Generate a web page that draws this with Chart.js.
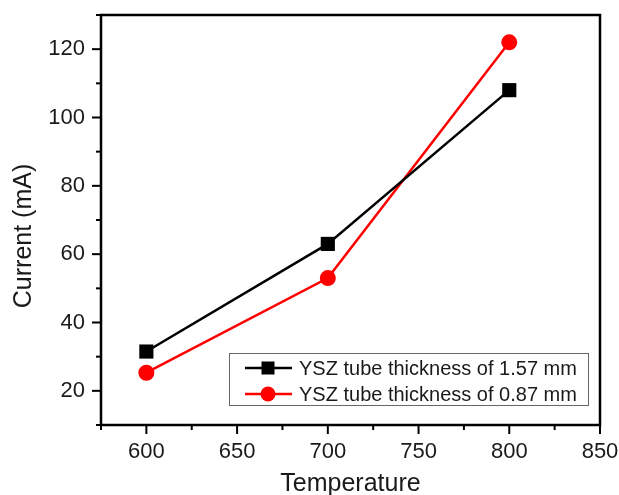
<!DOCTYPE html>
<html>
<head>
<meta charset="utf-8">
<title>Current vs Temperature</title>
<script src="https://cdn.jsdelivr.net/npm/chart.js@4.4.1/dist/chart.umd.min.js"></script>
<style>
  html, body { margin: 0; padding: 0; background: #fff; }
  #wrap { width: 619px; height: 495px; }
</style>
</head>
<body>
<div id="wrap"><canvas id="chart" width="619" height="495"></canvas></div>
<script>
const temperatures = [600, 700, 800];
const thick157 = [31.5, 63, 108];
const thick087 = [25.3, 53, 122];
const seriesLabels = ['YSZ tube thickness of 1.57 mm', 'YSZ tube thickness of 0.87 mm'];
const yTitle = 'Current (mA)';

const FONT = 'Arial, "Liberation Sans", sans-serif';
const INK = '#1a1a1a';

const toPoints = (xs, ys) => xs.map((x, i) => ({ x: x, y: ys[i] }));

// frame, outward tick marks (major long, minor short) and the y title
const framePlugin = {
  id: 'frame',
  afterDraw(chart) {
    const { ctx, chartArea: a, scales } = chart;
    ctx.save();
    ctx.strokeStyle = '#000';
    ctx.lineWidth = 2.5;
    ctx.strokeRect(a.left, a.top, a.right - a.left, a.bottom - a.top);

    ctx.lineWidth = 2;
    scales.x.ticks.forEach(t => {
      const px = scales.x.getPixelForValue(t.value);
      const len = t.value % 50 === 0 ? 9 : 5;
      ctx.beginPath();
      ctx.moveTo(px, a.bottom);
      ctx.lineTo(px, a.bottom + len);
      ctx.stroke();
    });
    scales.y.ticks.forEach(t => {
      const py = scales.y.getPixelForValue(t.value);
      const len = t.value % 20 === 0 ? 9 : 5;
      ctx.beginPath();
      ctx.moveTo(a.left, py);
      ctx.lineTo(a.left - len, py);
      ctx.stroke();
    });

    // rotated y title, sitting a little below the plot's middle
    ctx.translate(24, (a.top + a.bottom) / 2 + 16);
    ctx.rotate(-Math.PI / 2);
    ctx.font = '25px ' + FONT;
    ctx.fillStyle = INK;
    ctx.textAlign = 'center';
    ctx.textBaseline = 'middle';
    ctx.fillText(yTitle, 0, 0);
    ctx.restore();
  }
};

// boxed legend in the lower right of the plot
const legendBoxPlugin = {
  id: 'legendBox',
  afterDraw(chart) {
    const { ctx, chartArea: a } = chart;
    const boxL = a.left + 128, boxT = a.top + 338, boxW = 359, boxH = 52;
    ctx.save();
    ctx.strokeStyle = '#666';
    ctx.lineWidth = 1;
    ctx.strokeRect(boxL + 0.5, boxT + 0.5, boxW, boxH);
    ctx.font = '20px ' + FONT;
    ctx.textBaseline = 'middle';
    chart.data.datasets.forEach((ds, i) => {
      const cy = boxT + 15 + i * 26;
      ctx.strokeStyle = ds.borderColor;
      ctx.lineWidth = 2.5;
      ctx.beginPath();
      ctx.moveTo(boxL + 16, cy);
      ctx.lineTo(boxL + 63, cy);
      ctx.stroke();
      ctx.fillStyle = ds.backgroundColor;
      const cx = boxL + 39;
      if (ds.pointStyle === 'rect') {
        ctx.fillRect(cx - 6.5, cy - 6.5, 13, 13);
      } else {
        ctx.beginPath();
        ctx.arc(cx, cy, 7.5, 0, Math.PI * 2);
        ctx.fill();
      }
      ctx.fillStyle = INK;
      ctx.fillText(ds.label, boxL + 70, cy + 1);
    });
    ctx.restore();
  }
};

new Chart(document.getElementById('chart'), {
  type: 'line',
  data: {
    datasets: [
      {
        label: seriesLabels[0],
        data: toPoints(temperatures, thick157),
        borderColor: '#000',
        backgroundColor: '#000',
        borderWidth: 2.5,
        pointStyle: 'rect',
        pointRadius: 10,
        pointBorderWidth: 0
      },
      {
        label: seriesLabels[1],
        data: toPoints(temperatures, thick087),
        borderColor: '#ff0000',
        backgroundColor: '#ff0000',
        borderWidth: 2.5,
        pointStyle: 'circle',
        pointRadius: 8,
        pointBorderWidth: 0
      }
    ]
  },
  options: {
    responsive: false,
    animation: false,
    layout: { padding: { top: 15, right: 19, left: 0, bottom: 0 } },
    plugins: {
      legend: { display: false },
      tooltip: { enabled: false }
    },
    scales: {
      x: {
        type: 'linear',
        min: 575,
        max: 850,
        grid: { display: false },
        border: { display: false },
        ticks: {
          stepSize: 25,
          autoSkip: false,
          maxRotation: 0,
          padding: 6,
          color: INK,
          font: { family: FONT, size: 22 },
          callback: v => (v % 50 === 0 ? String(v) : '')
        },
        title: {
          display: true,
          text: 'Temperature',
          color: INK,
          font: { family: FONT, size: 25 },
          padding: { top: 0, bottom: -4 }
        },
        afterFit(scale) {
          scale.height = 70;
          scale.paddingLeft = 0;
          scale.paddingRight = 0;
        }
      },
      y: {
        min: 10,
        max: 130,
        grid: { display: false },
        border: { display: false },
        ticks: {
          stepSize: 10,
          autoSkip: false,
          padding: 8,
          color: INK,
          font: { family: FONT, size: 22 },
          callback: v => (v % 20 === 0 ? String(v) : '')
        },
        afterFit(scale) {
          scale.width = 101;
          scale.paddingTop = 0;
          scale.paddingBottom = 0;
        }
      }
    }
  },
  plugins: [framePlugin, legendBoxPlugin]
});
</script>
</body>
</html>
